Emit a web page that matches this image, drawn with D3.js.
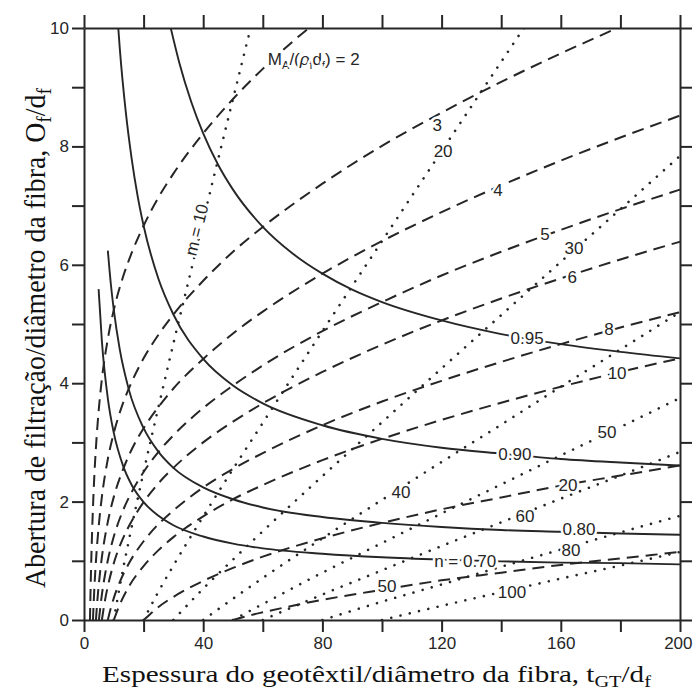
<!DOCTYPE html>
<html><head><meta charset="utf-8">
<script src="https://cdn.jsdelivr.net/npm/d3@7"></script>
<style>
body{margin:0;background:#fff}
svg{display:block}
</style>
</head><body>
<svg id="chart" width="693" height="691"></svg>
<script>
// ---------- data ----------
const xTickValues = [0,20,40,60,80,100,120,140,160,180,200];
const xTickLabels = [0,40,80,120,160,200];
const yTickValues = [0,1,2,3,4,5,6,7,8,9,10];
const yTickLabels = [0,2,4,6,8,10];

// porosity n (solid curves): [tGT/df, Of/df]
const n070 = [[4.9,5.59],[6,4.71],[8,3.74],[10,3.16],[13,2.62],[16,2.28],[20,1.99],[25,1.76],[30,1.60],[40,1.41],[50,1.29],[60,1.21],[80,1.12],[100,1.06],[120,1.02],[140,0.99],[160,0.97],[180,0.96],[200,0.94]];
const n080 = [[8,6.24],[9,5.68],[10,5.24],[12,4.57],[15,3.90],[20,3.24],[25,2.84],[30,2.57],[40,2.24],[50,2.04],[60,1.90],[80,1.74],[100,1.64],[120,1.57],[140,1.52],[160,1.49],[180,1.46],[200,1.44]];
const n090 = [[11.5,10],[12,9.66],[14,8.59],[16,7.79],[18,7.16],[20,6.66],[25,5.76],[30,5.16],[40,4.41],[50,3.96],[60,3.66],[80,3.29],[100,3.06],[120,2.91],[140,2.81],[160,2.72],[180,2.66],[200,2.61]];
const n095 = [[29.1,10],[32,9.41],[36,8.75],[40,8.22],[45,7.69],[50,7.27],[60,6.64],[70,6.19],[80,5.85],[90,5.58],[100,5.37],[120,5.06],[140,4.83],[160,4.66],[180,4.53],[200,4.42]];

// mass per unit area MA/(rho_f d_f) (dashed curves)
const ma2 = [[2,0],[2.2,0.5],[2.5,1.12],[3,1.89],[3.5,2.47],[4,2.91],[5,3.58],[6,4.07],[8,4.75],[10,5.24],[13,5.78],[16,6.20],[20,6.66],[25,7.14],[30,7.54],[40,8.22],[50,8.80],[60,9.31],[70,9.77],[75.5,10]];
const ma3 = [[3,0],[3.5,0.56],[4,0.99],[5,1.62],[6,2.08],[8,2.72],[10,3.16],[13,3.65],[16,4.02],[20,4.42],[25,4.82],[30,5.16],[40,5.73],[50,6.22],[60,6.64],[80,7.37],[100,8.01],[120,8.57],[140,9.09],[160,9.57],[179,10]];
const ma4 = [[4,0],[4.5,0.34],[5,0.62],[6,1.06],[8,1.66],[10,2.08],[13,2.53],[16,2.88],[20,3.24],[25,3.60],[30,3.91],[40,4.41],[50,4.84],[60,5.21],[80,5.85],[100,6.40],[120,6.89],[140,7.34],[160,7.76],[180,8.15],[200,8.52]];
const ma5 = [[5,0],[6,0.43],[7,0.75],[8,1.01],[10,1.41],[13,1.84],[16,2.16],[20,2.50],[25,2.84],[30,3.12],[40,3.58],[50,3.96],[60,4.30],[80,4.88],[100,5.37],[120,5.82],[140,6.22],[160,6.59],[180,6.94],[200,7.27]];
const ma6 = [[6,0],[7,0.32],[8,0.57],[10,0.96],[13,1.37],[16,1.67],[20,1.99],[25,2.31],[30,2.57],[40,3.00],[50,3.35],[60,3.66],[80,4.19],[100,4.65],[120,5.06],[140,5.43],[160,5.77],[180,6.09],[200,6.39]];
const ma8 = [[8,0],[9,0.20],[10,0.37],[12,0.64],[15,0.95],[20,1.33],[25,1.62],[30,1.85],[40,2.24],[50,2.55],[60,2.82],[80,3.29],[100,3.69],[120,4.04],[140,4.36],[160,4.66],[180,4.94],[200,5.20]];
const ma10 = [[10,0],[12,0.26],[15,0.56],[20,0.91],[25,1.18],[30,1.40],[40,1.75],[50,2.04],[60,2.28],[80,2.70],[100,3.06],[120,3.38],[140,3.67],[160,3.94],[180,4.19],[200,4.42]];
const ma20 = [[20,0],[22,0.09],[25,0.22],[30,0.39],[40,0.66],[50,0.88],[60,1.07],[80,1.38],[100,1.64],[120,1.87],[140,2.07],[160,2.27],[180,2.44],[200,2.61]];
const ma50 = [[50,0],[55,0.07],[60,0.13],[70,0.24],[80,0.34],[100,0.51],[120,0.67],[140,0.80],[160,0.93],[180,1.04],[200,1.15]];

// number of constrictions m (dotted curves)
const m10 = [[10,0],[12,0.57],[15,1.33],[20,2.50],[25,3.60],[30,4.67],[35,5.71],[40,6.75],[45,7.78],[50,8.80],[55.9,10]];
const m20 = [[20,0],[25,0.48],[30,0.92],[40,1.75],[50,2.55],[60,3.33],[80,4.88],[100,6.40],[120,7.92],[140,9.43],[147.6,10]];
const m30 = [[30,0],[40,0.53],[50,1.02],[60,1.50],[80,2.43],[100,3.34],[120,4.25],[140,5.15],[160,6.05],[180,6.94],[200,7.84]];
const m40 = [[40,0],[50,0.36],[60,0.71],[80,1.38],[100,2.03],[120,2.67],[140,3.30],[160,3.94],[180,4.57],[200,5.20]];
const m50 = [[50,0],[60,0.27],[80,0.80],[100,1.30],[120,1.80],[140,2.29],[160,2.78],[180,3.26],[200,3.75]];
const m60 = [[60,0],[80,0.43],[100,0.84],[120,1.25],[140,1.65],[160,2.05],[180,2.44],[200,2.84]];
const m80 = [[80,0],[100,0.31],[120,0.60],[140,0.90],[160,1.19],[180,1.48],[200,1.76]];
const m100 = [[100,0],[120,0.24],[140,0.47],[160,0.70],[180,0.92],[200,1.15]];

const solidCurves = [n070, n080, n090, n095];
const dashedCurves = [ma2, ma3, ma4, ma5, ma6, ma8, ma10, ma20, ma50];
const dottedCurves = [m10, m20, m30, m40, m50, m60, m80, m100];

// curve labels (text, anchor in data units)
const porosityLabels = ["n = 0.70", "0.80", "0.90", "0.95"];
const porosityLabelPos = [[127.9,0.98],[166.1,1.53],[144.6,2.79],[148.7,4.75]];
const massLabels = ["3","4","5","6","8","10","20","50"];
const massLabelPos = [[118.5,8.36],[138.9,7.25],[154.7,6.52],[163.8,5.79],[176.2,4.90],[178.9,4.17],[162.4,2.28],[101.7,0.56]];
const mLabels = ["20","30","40","50","60","80","100"];
const mLabelPos = [[120.5,7.92],[164.4,6.27],[106.4,2.16],[175.5,3.16],[148.0,1.74],[163.4,1.18],[143.6,0.47]];
const m10LabelPos = [37.9, 6.59];
const maTitlePos = [61.7, 9.38];

const xTitle = "Espessura do geotêxtil/diâmetro da fibra, t";
const yTitle = "Abertura de filtração/diâmetro da fibra, O";

// ---------- drawing ----------
const svg = d3.select("#chart");
const x = d3.scaleLinear().domain([0,200]).range([84,680]);
const y = d3.scaleLinear().domain([0,10]).range([620,28]);
const ink = "#262626";
const sans = "'Liberation Sans', Arial, Helvetica, sans-serif";
const serif = "'Liberation Serif', 'Times New Roman', serif";

svg.append("defs").append("clipPath").attr("id","plot")
  .append("rect").attr("x",x(0)).attr("y",y(10))
  .attr("width",x(200)-x(0)).attr("height",y(0)-y(10));

const line = d3.line().x(d=>x(d[0])).y(d=>y(d[1])).curve(d3.curveMonotoneX);
const plot = svg.append("g").attr("clip-path","url(#plot)");

plot.selectAll("path.dot").data(dottedCurves).join("path")
  .attr("class","dot").attr("d",line).attr("fill","none")
  .attr("stroke",ink).attr("stroke-width",2.6)
  .attr("stroke-linecap","round").attr("stroke-dasharray","0.01 9.5");

plot.selectAll("path.dash").data(dashedCurves).join("path")
  .attr("class","dash").attr("d",line).attr("fill","none")
  .attr("stroke",ink).attr("stroke-width",2)
  .attr("stroke-dasharray","12 7");

plot.selectAll("path.solid").data(solidCurves).join("path")
  .attr("class","solid").attr("d",line).attr("fill","none")
  .attr("stroke",ink).attr("stroke-width",1.9);

// axes
function styleAxis(g){
  g.select(".domain").attr("stroke",ink).attr("stroke-width",2);
  g.selectAll(".tick line").attr("stroke",ink).attr("stroke-width",2);
  g.selectAll(".tick text").attr("fill",ink).style("font-family",sans).style("font-size","17px");
}
const xAxisG = svg.append("g").attr("transform",`translate(0,${y(0)})`)
  .call(d3.axisBottom(x).tickValues(xTickValues).tickSize(12).tickSizeOuter(0).tickPadding(5)
    .tickFormat(d=>xTickLabels.includes(d)?String(d):""))
  .call(styleAxis);
xAxisG.selectAll(".tick text").filter(d=>d===200).attr("text-anchor","end").attr("x",12);
svg.append("g").attr("transform",`translate(0,${y(10)})`)
  .call(d3.axisTop(x).tickValues(xTickValues).tickSize(13).tickSizeOuter(0).tickFormat(""))
  .call(styleAxis);
svg.append("g").attr("transform",`translate(${x(0)},0)`)
  .call(d3.axisLeft(y).tickValues(yTickValues).tickSize(12).tickSizeOuter(0).tickPadding(3)
    .tickFormat(d=>yTickLabels.includes(d)?String(d):""))
  .call(styleAxis);
svg.append("g").attr("transform",`translate(${x(200)},0)`)
  .call(d3.axisRight(y).tickValues(yTickValues).tickSize(12).tickSizeOuter(0).tickFormat(""))
  .call(styleAxis);

// labels with white halo
function halo(sel){
  sel.attr("fill",ink).attr("stroke","#fff").attr("stroke-width",5)
    .attr("paint-order","stroke").attr("stroke-linejoin","round")
    .style("font-family",sans).style("font-size","17px");
}
const lab = svg.append("g");
function putLabels(texts, pos){
  lab.selectAll(null).data(texts).join("text")
    .attr("x",(d,i)=>x(pos[i][0])).attr("y",(d,i)=>y(pos[i][1]))
    .attr("text-anchor","middle").attr("dominant-baseline","central")
    .text(d=>d).call(halo);
}
putLabels(porosityLabels, porosityLabelPos);
putLabels(massLabels, massLabelPos);
putLabels(mLabels, mLabelPos);

lab.append("text")
  .attr("transform",`translate(${x(m10LabelPos[0])},${y(m10LabelPos[1])}) rotate(-76)`)
  .attr("text-anchor","middle").attr("dominant-baseline","central")
  .text("m = 10").call(halo);

const ma = lab.append("text").attr("x",x(maTitlePos[0])).attr("y",y(maTitlePos[1])).call(halo);
ma.append("tspan").text("M");
ma.append("tspan").attr("dy",4).style("font-size","11px").text("A");
ma.append("tspan").attr("dy",-4).text("/(");
ma.append("tspan").style("font-style","italic").text("ρ");
ma.append("tspan").attr("dy",4).style("font-size","11px").text("f");
ma.append("tspan").attr("dy",-4).text("d");
ma.append("tspan").attr("dy",4).style("font-size","11px").text("f");
ma.append("tspan").attr("dy",-4).text(") = 2");

// axis titles
function subText(sel, main, parts, size){
  sel.append("tspan").text(main);
  parts.forEach(p=>{
    if(p.sub){ sel.append("tspan").attr("dy",size*0.22).style("font-size",(size*0.7)+"px").text(p.t); }
    else { sel.append("tspan").attr("dy",-size*0.22).text(p.t); }
  });
}
const xt = svg.append("text").attr("text-anchor","middle")
  .style("font-family",serif).style("font-size","23px").attr("fill","#111");
subText(xt, xTitle, [{t:"GT",sub:true},{t:"/d"},{t:"f",sub:true}], 23);
const xw = xt.node().getComputedTextLength();
xt.attr("transform",`translate(376.5,682) scale(${549/xw},1)`);

const yt = svg.append("text").attr("text-anchor","middle")
  .style("font-family",serif).style("font-size","23px").attr("fill","#111");
subText(yt, yTitle, [{t:"f",sub:true},{t:"/d"},{t:"f",sub:true}], 23);
const yw = yt.node().getComputedTextLength();
yt.attr("transform",`translate(45,338) rotate(-90) scale(${500/yw},1.26)`);
</script>
</body></html>
